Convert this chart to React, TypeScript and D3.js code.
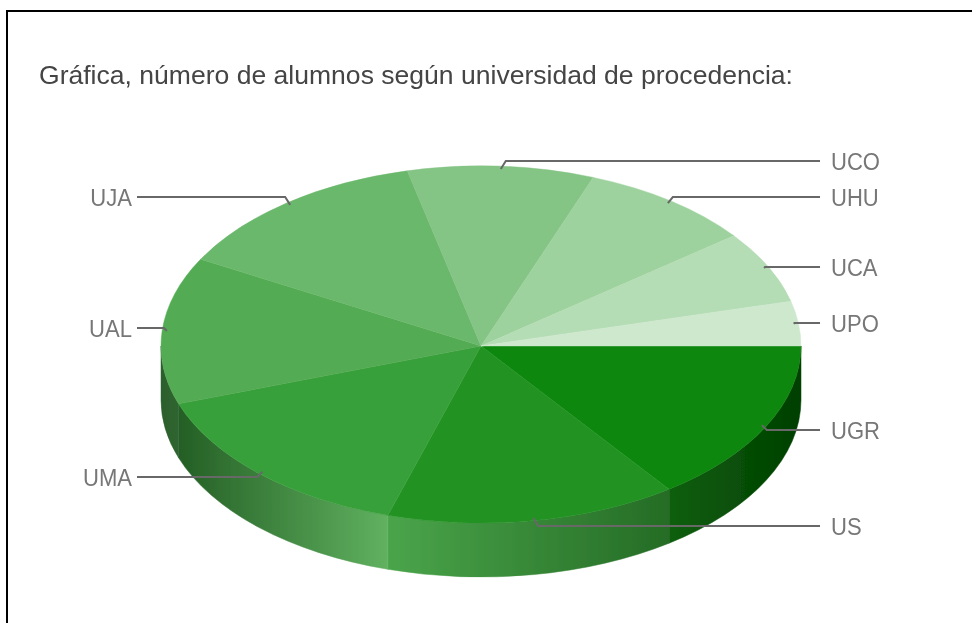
import React from "react";
import * as d3 from "d3";

const width = 972;
const height = 623;

const universities = ["UGR", "US", "UMA", "UAL", "UJA", "UCO", "UHU", "UCA", "UPO"];
// roughly per thousand students
const alumnos = [150, 147, 150, 133, 133, 94, 88, 65, 40];
const topColors = ["#0a870a", "#219321", "#39a03a", "#53ab53", "#6bb86c", "#84c484", "#9dd19d", "#b5ddb5", "#cee8ce"];
// left and right end colour of the wall of each front slice
const wallColors: Record<string, [string, string]> = {
  UGR: ["#0f5f0f", "#003f00"],
  US: ["#4aa54a", "#256c26"],
  UMA: ["#245f25", "#60b160"],
  UAL: ["#2c602d", "#2f6430"],
};
const labelY = [430, 526, 477, 328, 197, 161, 197, 267, 323];

const center = { x: 481, y: 346 };
const rx = 320;
// the top half of the disc is a little taller than the front half
const ryBack = 180;
const ryFront = 177;
const depth = 54;

const pie = d3
  .pie<number>()
  .sort(null)
  .startAngle(Math.PI / 2)
  .endAngle(Math.PI / 2 + Math.PI * 2);
const slices = pie(alumnos);

// d3 angles start at 12 o'clock, going clockwise
const px = (a: number, k = 1) => center.x + k * rx * Math.sin(a);
const py = (a: number, k = 1) => {
  const c = Math.cos(a);
  return center.y - k * (c > 0 ? ryBack : ryFront) * c;
};

const arc = d3.arc<d3.PieArcDatum<number>>().innerRadius(0).outerRadius(rx);

// wall only exists on the front half, angles between 90 and 270 degrees
function wallPath(a0: number, a1: number) {
  const from = Math.max(a0, Math.PI / 2);
  const to = Math.min(a1, (Math.PI * 3) / 2);
  return [
    `M${px(from)},${py(from)}`,
    `A${rx},${ryFront} 0 0 1 ${px(to)},${py(to)}`,
    `L${px(to)},${py(to) + depth}`,
    `A${rx},${ryFront} 0 0 0 ${px(from)},${py(from) + depth}`,
    "Z",
  ].join(" ");
}

const halves = [
  { id: "back", ry: ryBack, y: 0, h: center.y },
  { id: "front", ry: ryFront, y: center.y, h: height - center.y },
];

export default function App() {
  const front = slices.filter((d) => d.startAngle < (Math.PI * 3) / 2);
  const lineGen = d3.line();

  return (
    <svg width={width} height={height} style={{ position: "absolute", left: 0, top: 0 }}>
      <defs>
        {front.map((d) => {
          const name = universities[d.index];
          const [c0, c1] = wallColors[name];
          const xs = [px(d.startAngle), px(Math.min(d.endAngle, (Math.PI * 3) / 2))];
          return (
            <linearGradient
              key={name}
              id={`wall-${name}`}
              gradientUnits="userSpaceOnUse"
              x1={d3.min(xs)}
              x2={d3.max(xs)}
              y1={0}
              y2={0}
            >
              <stop offset="0%" stopColor={c0} />
              <stop offset="100%" stopColor={c1} />
            </linearGradient>
          );
        })}
        {halves.map((h) => (
          <clipPath key={h.id} id={`half-${h.id}`}>
            <rect x={0} y={h.y} width={width} height={h.h} />
          </clipPath>
        ))}
        <filter id="soft" x="-5%" y="-5%" width="110%" height="110%">
          <feGaussianBlur stdDeviation="0.5" />
        </filter>
      </defs>
      <rect width={width} height={height} fill="#fff" />
      <path d={`M7,${height}V11H${width}`} fill="none" stroke="#000" strokeWidth={2} />

      <text
        x={39}
        y={84}
        fontFamily="'Liberation Sans', Arial, sans-serif"
        fontSize={26}
        fill="#444"
        textLength={754}
        lengthAdjust="spacingAndGlyphs"
        filter="url(#soft)"
      >
        Gráfica, número de alumnos según universidad de procedencia:
      </text>

      <g filter="url(#soft)">
        {front.map((d) => (
          <path
            key={d.index}
            d={wallPath(d.startAngle, d.endAngle)}
            fill={`url(#wall-${universities[d.index]})`}
            stroke={`url(#wall-${universities[d.index]})`}
            strokeWidth={0.5}
          />
        ))}
        {halves.map((h) => (
          <g key={h.id} clipPath={`url(#half-${h.id})`}>
            <g transform={`translate(${center.x},${center.y}) scale(1,${h.ry / rx})`}>
              {slices.map((d) => (
                <path
                  key={d.index}
                  d={arc(d) ?? ""}
                  fill={topColors[d.index]}
                  stroke={topColors[d.index]}
                  strokeWidth={0.6}
                />
              ))}
            </g>
          </g>
        ))}
      </g>

      <g filter="url(#soft)">
        {slices.map((d) => {
          const mid = (d.startAngle + d.endAngle) / 2;
          // the leader starts just inside the rim
          const ax = px(mid, 0.985);
          const ay = py(mid, 0.985);
          const right = ax > center.x;
          const ly = labelY[d.index];
          const bend = Math.min(5, Math.abs(ay - ly));
          const points: [number, number][] = [
            [ax, ay],
            [ax + (right ? bend : -bend), ly],
            [right ? 820 : 137, ly],
          ];
          return (
            <g key={d.index}>
              <path d={lineGen(points) ?? ""} fill="none" stroke="#686868" strokeWidth={2} />
              <text
                transform={`translate(${right ? 831 : 132},${ly + 9}) scale(0.92,1)`}
                textAnchor={right ? "start" : "end"}
                fontFamily="'Liberation Sans', Arial, sans-serif"
                fontSize={24}
                fill="#777"
              >
                {universities[d.index]}
              </text>
            </g>
          );
        })}
      </g>
    </svg>
  );
}
